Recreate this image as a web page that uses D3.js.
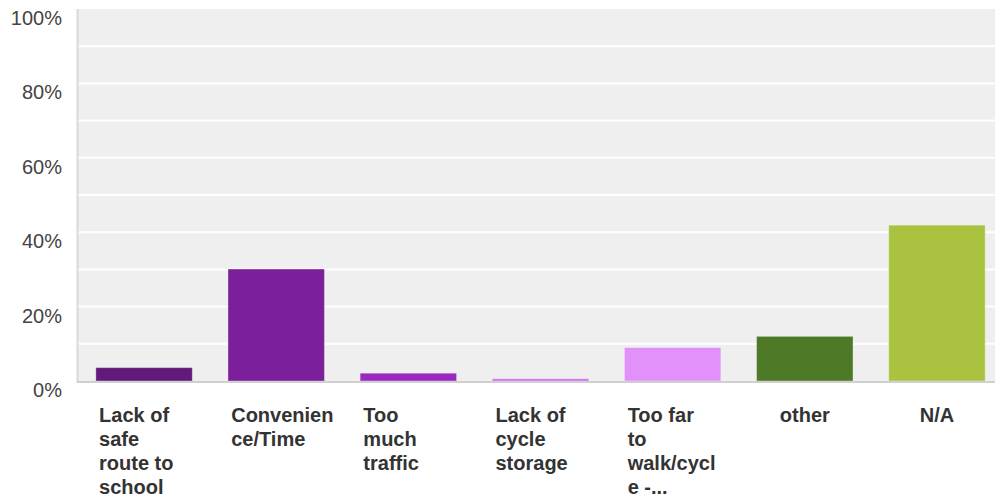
<!DOCTYPE html>
<html>
<head>
<meta charset="utf-8">
<script src="https://cdn.jsdelivr.net/npm/d3@7"></script>
<style>
  html, body { margin: 0; padding: 0; background: #ffffff; }
  svg { display: block; }
</style>
</head>
<body>
<svg id="chart" width="995" height="498"></svg>
<script>
// ---- data ----
const categories = [
  "Lack of safe route to school",
  "Convenience/Time",
  "Too much traffic",
  "Lack of cycle storage",
  "Too far to walk/cycle -...",
  "other",
  "N/A"
];
const labelLines = [
  ["Lack of", "safe", "route to", "school"],
  ["Convenien", "ce/Time"],
  ["Too", "much", "traffic"],
  ["Lack of", "cycle", "storage"],
  ["Too far", "to", "walk/cycl", "e -..."],
  ["other"],
  ["N/A"]
];
const values = [3.6, 30.1, 2.1, 0.6, 9.0, 12.0, 41.9];
const barColors = ["#621a7a", "#7c1f9c", "#9a2abe", "#d06cf0", "#e291fb", "#4e7a27", "#a9c23f"];
const yTicks = [0, 20, 40, 60, 80, 100];
const yGrid = [10, 30, 50, 70, 90];

// ---- layout ----
const W = 995, H = 498;
const plotLeft = 78, plotRight = 1003, plotTop = 9, plotBottom = 381;

const svg = d3.select("#chart");

const x = d3.scaleBand()
  .domain(categories)
  .range([plotLeft, plotRight])
  .paddingInner(0.27)
  .paddingOuter(0.135);

const y = d3.scaleLinear()
  .domain([0, 100])
  .range([plotBottom, plotTop]);

// plot background
svg.append("rect")
  .attr("x", plotLeft)
  .attr("y", y(100))
  .attr("width", W - plotLeft)
  .attr("height", y(0) - y(100))
  .attr("fill", "#efefef");

// gridlines (every 10%)
svg.append("g")
  .selectAll("line")
  .data(yTicks.concat(yGrid).filter(d => d > 0 && d < 100))
  .join("line")
  .attr("x1", plotLeft)
  .attr("x2", W)
  .attr("y1", d => y(d))
  .attr("y2", d => y(d))
  .attr("stroke", "#ffffff")
  .attr("stroke-width", 2);

// left axis line
svg.append("line")
  .attr("x1", plotLeft - 0.5).attr("x2", plotLeft - 0.5)
  .attr("y1", y(100)).attr("y2", y(0) + 2)
  .attr("stroke", "#d9d9d9")
  .attr("stroke-width", 2);

// bars
svg.append("g")
  .selectAll("rect")
  .data(categories)
  .join("rect")
  .attr("x", d => x(d))
  .attr("width", x.bandwidth())
  .attr("y", (d, i) => y(values[i]))
  .attr("height", (d, i) => y(0) - y(values[i]))
  .attr("fill", (d, i) => barColors[i])
  .attr("stroke", "rgba(255,255,255,0.35)")
  .attr("stroke-width", 1);

// baseline
svg.append("line")
  .attr("x1", plotLeft - 1).attr("x2", W)
  .attr("y1", y(0) + 1).attr("y2", y(0) + 1)
  .attr("stroke", "#d0d0d0")
  .attr("stroke-width", 2);

// y axis labels
const yAxis = d3.axisLeft(y)
  .tickValues(yTicks)
  .tickFormat(d => d + "%")
  .tickSize(0)
  .tickPadding(0);

const gy = svg.append("g")
  .attr("transform", `translate(62,0)`)
  .call(yAxis);
gy.select(".domain").remove();
gy.selectAll("text")
  .attr("x", 0)
  .attr("y", 9)
  .attr("fill", "#444444")
  .style("font-family", "'Liberation Sans', Arial, sans-serif")
  .style("font-size", "20px");

// x category labels
const wrapW = 90;
const lineH = 24;
const firstBase = 422;
const gx = svg.append("g")
  .style("font-family", "'Liberation Sans', Arial, sans-serif")
  .style("font-size", "20px")
  .style("font-weight", "bold")
  .attr("fill", "#333333");

categories.forEach((c, i) => {
  const cx = x(c) + x.bandwidth() / 2;
  const lines = labelLines[i];
  const multi = lines.length > 1;
  const t = gx.append("text")
    .attr("text-anchor", multi ? "start" : "middle")
    .attr("x", multi ? cx - wrapW / 2 : cx)
    .attr("y", firstBase);
  lines.forEach((ln, j) => {
    t.append("tspan")
      .attr("x", multi ? cx - wrapW / 2 : cx)
      .attr("y", firstBase + j * lineH)
      .text(ln);
  });
});
</script>
</body>
</html>
